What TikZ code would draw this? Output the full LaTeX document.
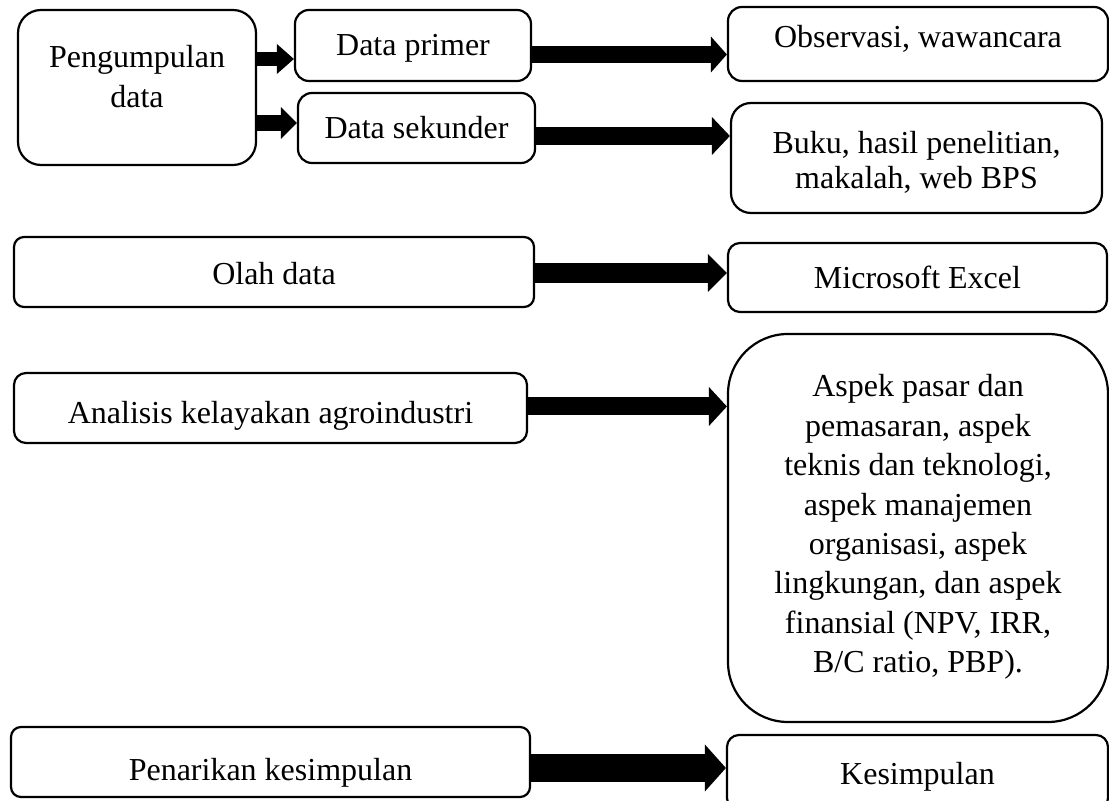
\documentclass[tikz,border=0pt]{standalone}
\usepackage{fontspec}
\setmainfont{Liberation Serif}
\usetikzlibrary{arrows.meta}
\newcommand{\mlines}[1]{\begin{tabular}[t]{@{}c@{}}#1\end{tabular}}
\begin{document}
\begin{tikzpicture}[x=0.5pt,y=-0.5pt,
  box/.style={draw, line width=1.1pt, rectangle, inner sep=0pt, align=center,
    font=\fontsize{16}{20}\selectfont, text height=11pt},
  blk/.style n args={3}{line width=#1, -{Triangle[length=#3,width=#2,line width=0pt]}}
]
\useasboundingbox (0,0) rectangle (1109,801);
\clip (0,0) rectangle (1109,801);

\node[box, rounded corners=11.5pt, minimum width=119pt, minimum height=77.5pt, text depth=30.5pt] (peng) at (137,87.5) {\mlines{Pengumpulan\\data}};
\node[box, rounded corners=7pt, minimum width=118pt, minimum height=35.5pt, text depth=0.5pt] (primer) at (413,45.5) {\mlines{Data primer}};
\node[box, rounded corners=7pt, minimum width=118.5pt, minimum height=35pt, text depth=0pt] (sekunder) at (416.5,128) {\mlines{Data sekunder}};
\node[box, rounded corners=7pt, minimum width=190pt, minimum height=37pt, text depth=7pt] (obs) at (918,44) {\mlines{Observasi, wawancara}};
\node[box, rounded corners=10pt, minimum width=185.5pt, minimum height=55pt, text depth=15pt, font=\fontsize{16}{17.5}\selectfont] (buku) at (916.5,158) {\mlines{Buku, hasil penelitian,\\makalah, web BPS}};
\node[box, rounded corners=5pt, minimum width=260pt, minimum height=35pt, text height=13pt, text depth=0pt] (olah) at (274,272) {\mlines{Olah data}};
\node[box, rounded corners=6pt, minimum width=189.5pt, minimum height=34.5pt, text height=11.5pt, text depth=0pt] (excel) at (917.5,277.5) {\mlines{Microsoft Excel}};
\node[box, rounded corners=6pt, minimum width=256.5pt, minimum height=35pt, text height=16pt, text depth=0pt] (anal) at (270.5,408) {\mlines{Analisis kelayakan agroindustri}};
\node[box, rounded corners=30pt, minimum width=190pt, minimum height=194pt, text depth=142pt, font=\fontsize{16}{19.7}\selectfont] (aspek) at (918,528) {\mlines{Aspek pasar dan\\pemasaran, aspek\\teknis dan teknologi,\\aspek manajemen\\organisasi, aspek\\lingkungan, dan aspek\\finansial (NPV, IRR,\\B/C ratio, PBP).}};
\node[box, rounded corners=5pt, minimum width=259.5pt, minimum height=35pt, text height=19pt, text depth=0pt] (penarikan) at (270.5,762) {\mlines{Penarikan kesimpulan}};
\node[box, rounded corners=6pt, minimum width=190.5pt, minimum height=37.5pt, text height=11.5pt, text depth=0pt] (kesimpulan) at (917.5,772.5) {\mlines{Kesimpulan}};

\draw[blk={7pt}{15pt}{8.5pt}] (peng.east |- 0,59) -- (primer.west |- 0,59);
\draw[blk={8pt}{16pt}{8pt}] (peng.east |- 0,123) -- (sekunder.west |- 0,123);
\draw[blk={8.5pt}{18pt}{8pt}] (primer.east |- 0,54.5) -- (obs.west |- 0,54.5);
\draw[blk={9pt}{19pt}{9pt}] (sekunder.east |- 0,136) -- (buku.west |- 0,136);
\draw[blk={10pt}{19pt}{9.5pt}] (olah.east |- 0,273) -- (excel.west |- 0,273);
\draw[blk={9pt}{19.5pt}{9pt}] (anal.east |- 0,406.5) -- (aspek.west |- 0,406.5);
\draw[blk={14pt}{23.5pt}{10.5pt}] (penarikan.east |- 0,768) -- (kesimpulan.west |- 0,768);
\end{tikzpicture}
\end{document}
